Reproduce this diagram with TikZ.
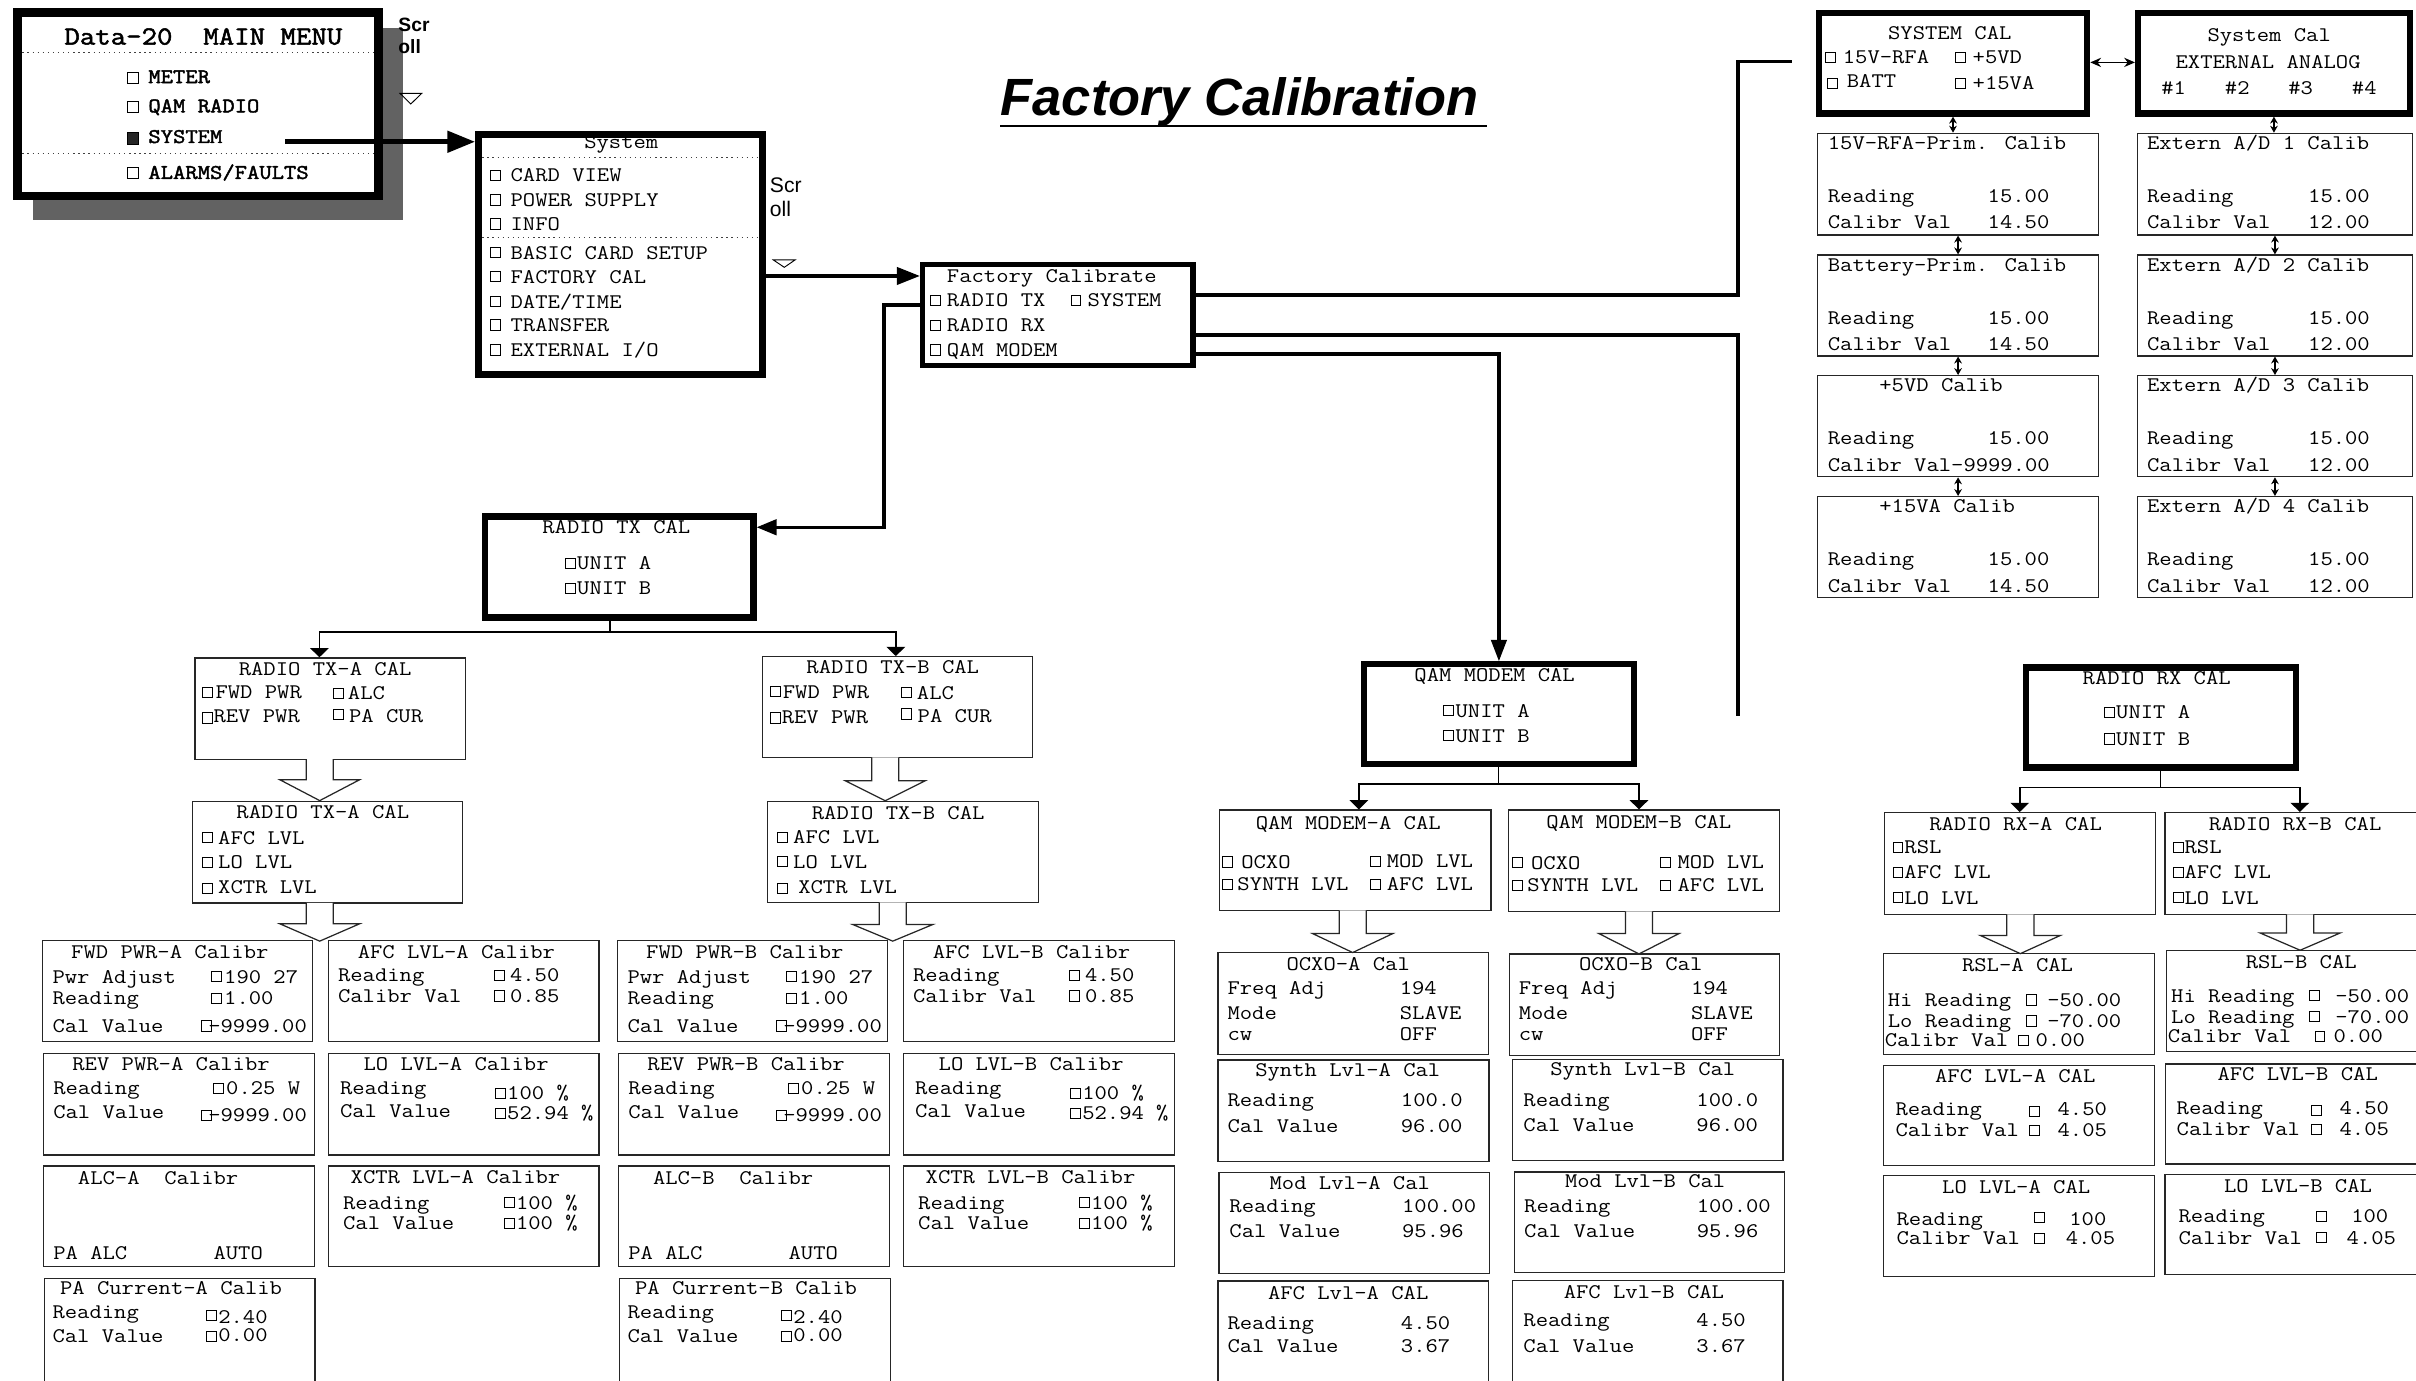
\documentclass[tikz,border=0pt]{standalone}
\usepackage{fontspec}
\newfontfamily\cmono{Latin Modern Mono}[FakeStretch=1.151]
\newfontfamily\cmonob{Latin Modern Mono}[FakeStretch=1.151, FakeBold=2]
\newfontfamily\lsans{Liberation Sans}
\usetikzlibrary{arrows.meta}
\definecolor{shadowgray}{RGB}{98,98,98}
\newcommand\mono{\cmono\fontsize{13.5}{15}\selectfont}
\newcommand\monob{\cmonob\fontsize{13.5}{15}\selectfont}
\newcommand\mbx[6]{\node[#2, minimum width={(#5)-(#3)}, minimum height={(#6)-(#4)}] (#1) at ({((#3)+(#5))/2},{((#4)+(#6))/2}) {};}
\newcommand\mtx[3]{\node[lbl] at (#1,#2) {#3};}
\newcommand\mtc[3]{\node[lblc] at (#1,#2) {#3};}
\newcommand\mcb[2]{\node[cbx] at (#1,#2) {};}
\newcommand\mbar[4]{\draw[barw] ({#1-8.8},#2) -- ({#1-8.8},#3) -- ({#1-26},#3) -- (#1,#4) -- ({#1+26},#3) -- ({#1+8.8},#3) -- ({#1+8.8},#2);}
\tikzset{
 lbl/.style={anchor=west, inner sep=0pt, outer sep=0pt, text height=8.2pt, text depth=0pt, font=\mono},
 lblc/.style={lbl, anchor=center},
 cbx/.style={draw, line width=0.65pt, anchor=west, minimum width=6.4pt, minimum height=6.6pt, inner sep=0pt, outer sep=0pt},
 tbox/.style={draw=black!85, line width=0.8pt, inner sep=0pt},
 kbox/.style={draw, line width=4pt, fill=white, inner sep=0pt},
 conn/.style={line width=2.2pt},
 tline/.style={line width=1pt},
 tarr/.style={tline, -{Triangle[length=6pt,width=12pt]}},
 barw/.style={line width=0.8pt, draw=black!85, fill=white},
 dots/.style={line width=0.9pt, dash pattern=on 0.9pt off 2.4pt, draw=black!75},
 sdbl/.style={line width=0.9pt, {Stealth[length=4.5pt,width=5pt]}-{Stealth[length=4.5pt,width=5pt]}},
}
\newcommand\mtxbot[1]{%
\mbx{fwd#1}{tbox}{27.5}{610.5}{202.7}{676}
\mbx{afc#1}{tbox}{213.3}{610.5}{388.8}{676}
\mbx{rev#1}{tbox}{28.2}{683.6}{204.3}{749.6}
\mbx{lo#1}{tbox}{213.3}{683.6}{388.8}{749.6}
\mbx{alc#1}{tbox}{28.2}{756.8}{204.3}{822}
\mbx{xc#1}{tbox}{213.3}{756.8}{388.8}{822}
\mbx{pac#1}{tbox}{28.7}{829.9}{204.5}{910}
\mtx{46.2}{618.1}{FWD PWR-#1 Calibr}
\mtx{34.1}{633.9}{Pwr Adjust}\mcb{137.3}{633.9}\mtx{145.5}{633.9}{190 27}
\mtx{34.1}{647.9}{Reading}\mcb{137.3}{647.9}\mtx{145.5}{647.9}{1.00}
\mtx{34.1}{665.9}{Cal Value}\mcb{130.9}{665.9}\mtx{135.2}{665.9}{-9999.00}
\mtx{232.2}{618}{AFC LVL-#1 Calibr}
\mtx{219.4}{633.2}{Reading}\mcb{320.8}{633.2}\mtx{331}{633.2}{4.50}
\mtx{219.4}{646.4}{Calibr Val}\mcb{320.8}{646.4}\mtx{331}{646.4}{0.85}
\mtx{47}{690.8}{REV PWR-#1 Calibr}
\mtx{34.6}{706.4}{Reading}\mcb{138.6}{706.4}\mtx{146.8}{706.4}{0.25 W}
\mtx{34.6}{721.5}{Cal Value}\mcb{130.9}{723.7}\mtx{135.2}{723.7}{-9999.00}
\mtx{236}{690.8}{LO LVL-#1 Calibr}
\mtx{220.7}{706.4}{Reading}\mcb{321.5}{709.6}\mtx{329.2}{709.6}{100 \%}
\mtx{220.7}{720.9}{Cal Value}\mcb{321.5}{722.6}\mtx{329.2}{722.6}{52.94 \%}
\mtx{50.6}{764.8}{ALC-#1~~Calibr}
\mtx{34.6}{813.5}{PA ALC}\mtx{138.6}{813.5}{AUTO}
\mtx{227.6}{764}{XCTR LVL-#1 Calibr}
\mtx{222.7}{780.6}{Reading}\mcb{327.2}{780.6}\mtx{334.9}{780.6}{100 \%}
\mtx{222.7}{794}{Cal Value}\mcb{327.2}{794}\mtx{334.9}{794}{100 \%}
\mtx{39}{836.2}{PA Current-#1 Calib}
\mtx{34.1}{851.3}{Reading}\mcb{134}{853.5}\mtx{141.7}{854.6}{2.40}
\mtx{34.1}{867.5}{Cal Value}\mcb{134}{867.5}\mtx{141.7}{866.5}{0.00}
}
\begin{document}
\begin{tikzpicture}[x=1pt,y=-1pt]
\path[use as bounding box, fill=white] (0,0) rectangle (1568,896);

% ---------- main menu ----------
\fill[shadowgray] (21.6,18.4) rectangle (261.8,142.8);
\mbx{menu}{kbox, line width=5.4pt}{11.4}{8.1}{245.7}{127.1}
\node[lblc, font=\cmonob\fontsize{16.9}{20}\selectfont] (menut) at (132,24.8) {Data-20~~MAIN MENU};
\draw[dots] (14.5,34.2) -- (243,34.2);
\draw[dots] (14.5,99.5) -- (243,99.5);
\node[cbx, minimum width=7pt, minimum height=7pt] at (82.9,50.6) {};
\node[lbl, font=\monob] at (96.3,49.8) {METER};
\node[cbx, minimum width=7pt, minimum height=7pt] at (82.9,69.5) {};
\node[lbl, font=\monob] at (96.3,68.8) {QAM RADIO};
\node[cbx, minimum width=7pt, minimum height=7.4pt, fill=black!85] at (82.9,89.8) {};
\node[lbl, font=\monob] at (96.3,88.7) {SYSTEM};
\node[cbx, minimum width=7pt, minimum height=7pt] at (82.9,112.5) {};
\node[lbl, font=\monob] at (96.3,112) {ALARMS/FAULTS};
\coordinate (mmsys) at (185,92);
\node[lbl, font=\lsans\bfseries\fontsize{12.5}{14}\selectfont] at (258.6,16.2) {Scr};
\node[lbl, font=\lsans\bfseries\fontsize{12.5}{14}\selectfont] at (258.6,30.3) {oll};
\draw[line width=0.6pt] (259.6,60.6) -- (273.7,60.6) -- (266.6,67.5) -- cycle;

% ---------- system box ----------
\mbx{sys}{kbox, line width=4.3pt}{310.5}{87.2}{494.9}{243.1}
\mtc{403.2}{92.6}{System}
\draw[dots] (313,102.1) -- (492.5,102.1);
\draw[dots] (313,154.3) -- (492.5,154.3);
\mcb{318.5}{114}\mtx{331.4}{114}{CARD VIEW}
\mcb{318.5}{129.8}\mtx{331.4}{129.8}{POWER SUPPLY}
\mcb{318.5}{145.4}\mtx{331.4}{145.4}{INFO}
\mcb{318.5}{164}\mtx{331.4}{164}{BASIC CARD SETUP}
\mcb{318.5}{179.6}\mtx{331.4}{179.6}{FACTORY CAL}
\mcb{318.5}{195.8}\mtx{331.4}{195.8}{DATE/TIME}
\mcb{318.5}{210.9}\mtx{331.4}{210.9}{TRANSFER}
\mcb{318.5}{227.2}\mtx{331.4}{227.2}{EXTERNAL I/O}
\node[lbl, font=\lsans\fontsize{13.7}{15}\selectfont] at (499.7,120.7) {Scr};
\node[lbl, font=\lsans\fontsize{13.7}{15}\selectfont] at (499.7,136.3) {oll};
\draw[line width=0.6pt] (501.9,168.7) -- (516,168.7) -- (509,173.5) -- cycle;
\draw[line width=3.2pt, -{Triangle[length=18pt,width=13.6pt]}] (mmsys) -- (mmsys -| sys.west);

% ---------- factory calibrate ----------
\node[anchor=base west, inner sep=0pt, font=\lsans\bfseries\itshape\fontsize{34}{40}\selectfont] (title) at (649.3,74.7) {Factory Calibration};
\draw[line width=1.3pt] (649.3,81.8) -- (965.1,81.8);
\mbx{fac}{kbox, line width=3.4pt}{598.8}{171.6}{774.2}{237.4}
\mtc{682.6}{179.2}{Factory Calibrate}
\mcb{603.8}{194.8}\mtx{614.5}{194.8}{RADIO TX}
\mcb{695.1}{194.8}\mtx{705.8}{194.8}{SYSTEM}
\mcb{603.8}{211}\mtx{614.5}{211}{RADIO RX}
\mcb{603.8}{227.2}\mtx{614.5}{227.2}{QAM MODEM}
\draw[line width=2.6pt, -{Triangle[length=15pt,width=11pt]}] (sys.east |- 0,179.1) -- (fac.west |- 0,179.1);

% ---------- system cal ----------
\mbx{sc}{kbox}{1180.4}{8.5}{1354.6}{73.7}
\mtc{1265.4}{21.6}{SYSTEM CAL}
\mcb{1185}{37.2}\mtx{1196}{37.2}{15V-RFA}
\mcb{1269}{37.2}\mtx{1280.3}{37.2}{+5VD}
\mcb{1186.3}{54.1}\mtx{1198.6}{52.6}{BATT}
\mcb{1269}{54.1}\mtx{1280.3}{54.1}{+15VA}
\mbx{ext}{kbox}{1387.6}{8.5}{1564}{73.7}
\mtc{1472.7}{22.7}{System Cal}
\mtc{1472}{40.5}{EXTERNAL ANALOG}
\mtx{1402.7}{57.3}{\#1}\mtx{1444}{57.3}{\#2}\mtx{1485.1}{57.3}{\#3}\mtx{1526.4}{57.3}{\#4}
\draw[line width=1pt, {Stealth[length=7pt,width=6pt]}-{Stealth[length=7pt,width=6pt]}] (sc.east |- 0,40.5) -- (ext.west |- 0,40.5);

\mbx{dL1}{tbox}{1179.7}{86.5}{1361.9}{152.5}
\mbx{dL2}{tbox}{1179.7}{165.5}{1361.9}{231}
\mbx{dL3}{tbox}{1179.7}{243.8}{1361.9}{309.4}
\mbx{dL4}{tbox}{1179.7}{322.3}{1361.9}{387.7}
\mbx{dR1}{tbox}{1387.4}{86.5}{1565.5}{152.5}
\mbx{dR2}{tbox}{1387.4}{165.5}{1565.5}{231}
\mbx{dR3}{tbox}{1387.4}{243.8}{1565.5}{309.4}
\mbx{dR4}{tbox}{1387.4}{322.3}{1565.5}{387.7}
\draw[sdbl] (sc.south) -- (sc.south |- dL1.north);
\draw[sdbl] (dL1.south) -- (dL2.north);
\draw[sdbl] (dL2.south) -- (dL3.north);
\draw[sdbl] (dL3.south) -- (dL4.north);
\draw[sdbl] (ext.south) -- (ext.south |- dR1.north);
\draw[sdbl] (dR1.south) -- (dR2.north);
\draw[sdbl] (dR2.south) -- (dR3.north);
\draw[sdbl] (dR3.south) -- (dR4.north);

\mtx{1186.3}{93}{15V-RFA-Prim. Calib}
\mtx{1186.3}{127.6}{Reading}\mtx{1290}{127.6}{15.00}
\mtx{1186.3}{144.5}{Calibr Val}\mtx{1290}{144.5}{14.50}
\mtx{1186.3}{172}{Battery-Prim. Calib}
\mtx{1186.3}{206.6}{Reading}\mtx{1290}{206.6}{15.00}
\mtx{1186.3}{223.2}{Calibr Val}\mtx{1290}{223.2}{14.50}
\mtx{1219.7}{250}{+5VD Calib}
\mtx{1186.3}{284.5}{Reading}\mtx{1290}{284.5}{15.00}
\mtx{1186.3}{301.8}{Calibr Val-9999.00}
\mtx{1219.7}{328.8}{+15VA Calib}
\mtx{1186.3}{363}{Reading}\mtx{1290}{363}{15.00}
\mtx{1186.3}{380.3}{Calibr Val}\mtx{1290}{380.3}{14.50}

\mtx{1393.5}{93}{Extern A/D 1 Calib}
\mtx{1393.5}{127.6}{Reading}\mtx{1498}{127.6}{15.00}
\mtx{1393.5}{144.5}{Calibr Val}\mtx{1498}{144.5}{12.00}
\mtx{1393.5}{172}{Extern A/D 2 Calib}
\mtx{1393.5}{206.6}{Reading}\mtx{1498}{206.6}{15.00}
\mtx{1393.5}{223.2}{Calibr Val}\mtx{1498}{223.2}{12.00}
\mtx{1393.5}{250}{Extern A/D 3 Calib}
\mtx{1393.5}{284.5}{Reading}\mtx{1498}{284.5}{15.00}
\mtx{1393.5}{301.8}{Calibr Val}\mtx{1498}{301.8}{12.00}
\mtx{1393.5}{328.8}{Extern A/D 4 Calib}
\mtx{1393.5}{363}{Reading}\mtx{1498}{363}{15.00}
\mtx{1393.5}{380.3}{Calibr Val}\mtx{1498}{380.3}{12.00}

% ---------- radio tx ----------
\mbx{txc}{kbox}{315}{335.2}{489}{400.8}
\mtc{400}{342.2}{RADIO TX CAL}
\mcb{367}{365.6}\mtx{374.6}{365.6}{UNIT A}
\mcb{367}{381.8}\mtx{374.6}{381.8}{UNIT B}

\mbx{txa1}{tbox}{126.5}{427}{302}{492.7}
\mtc{211}{434}{RADIO TX-A CAL}
\mcb{131.6}{449.5}\mtx{139.9}{449.5}{FWD PWR}
\mcb{216.3}{450}\mtx{225.8}{450}{ALC}
\mcb{131.6}{466}\mtx{138.6}{465}{REV PWR}
\mcb{216.3}{463.9}\mtx{226.6}{465}{PA CUR}
\mbx{txa2}{tbox}{125}{520}{300}{586}
\mtc{209.5}{527.2}{RADIO TX-A CAL}
\mcb{131.6}{543.7}\mtx{141.6}{543.7}{AFC LVL}
\mcb{131.6}{559.7}\mtx{141.6}{559.7}{LO LVL}
\mcb{131.6}{576.5}\mtx{141.6}{575.5}{XCTR LVL}

\mbx{txb1}{tbox}{495}{426.2}{670.1}{491.6}
\mtc{579.4}{433}{RADIO TX-B CAL}
\mcb{499.9}{449}\mtx{508.1}{449}{FWD PWR}
\mcb{584.9}{449.6}\mtx{595.1}{449.6}{ALC}
\mcb{499.9}{466}\mtx{507.4}{465.2}{REV PWR}
\mcb{584.9}{463.4}\mtx{595.6}{465}{PA CUR}
\mbx{txb2}{tbox}{498.2}{520.1}{673.8}{585.7}
\mtc{582.9}{527.5}{RADIO TX-B CAL}
\mcb{504.4}{543.5}\mtx{514.8}{543.5}{AFC LVL}
\mcb{504.4}{559.3}\mtx{514.8}{559.3}{LO LVL}
\mcb{504.4}{576.6}\mtx{518.1}{575.5}{XCTR LVL}

\coordinate (txj) at (396,410);
\coordinate (txja) at (207.3,410);
\coordinate (txjb) at (581.4,410);
\draw[tline] (txj |- txc.south) -- (txj);
\draw[tarr] (txj) -- (txja) -- (txja |- txa1.north);
\draw[tarr] (txj) -- (txjb) -- (txjb |- txb1.north);
\mbar{207.5}{492.7}{506}{519.6}
\mbar{574.5}{491.6}{506.7}{519.7}
\mbar{207.5}{586}{599.5}{610.8}
\mbar{579.4}{585.7}{600}{610.8}

\mtxbot{A}
\begin{scope}[xshift=373.2pt]
\mtxbot{B}
\end{scope}

% ---------- qam ----------
\mbx{qam}{kbox}{885.1}{431.2}{1060.5}{496.1}
\mtc{970}{438.4}{QAM MODEM CAL}
\mcb{937}{461.3}\mtx{944.7}{461.3}{UNIT A}
\mcb{937}{477.6}\mtx{944.7}{477.6}{UNIT B}
\coordinate (qj) at (972.5,508.8);
\coordinate (qja) at (881.9,508.8);
\coordinate (qjb) at (1063.7,508.8);
\mbx{qa}{tbox}{791.7}{525.7}{967.6}{590.9}
\mbx{qb}{tbox}{979.2}{525.7}{1155.1}{591.5}
\draw[tline] (qam.south -| qj) -- (qj);
\draw[tarr] (qj) -- (qja) -- (qja |- qa.north);
\draw[tarr] (qj) -- (qjb) -- (qjb |- qb.north);
\mtc{875}{534.2}{QAM MODEM-A CAL}
\mcb{793.7}{559.4}\mtx{805.6}{559.4}{OCXO}
\mcb{889.3}{559}\mtx{900}{559}{MOD LVL}
\mcb{793.7}{574}\mtx{803.1}{574}{SYNTH LVL}
\mcb{889.3}{574}\mtx{900}{574}{AFC LVL}
\mtc{1063.6}{533.5}{QAM MODEM-B CAL}
\mcb{981.7}{559.9}\mtx{993.7}{559.9}{OCXO}
\mcb{1077.6}{559.5}\mtx{1088.8}{559.5}{MOD LVL}
\mcb{981.7}{574.5}\mtx{991.2}{574.5}{SYNTH LVL}
\mcb{1077.6}{574.5}\mtx{1088.8}{574.5}{AFC LVL}
\mbar{877.9}{590.9}{605.9}{618.2}
\mbar{1063.7}{591.5}{605.9}{619.1}

\mbx{ocA}{tbox}{790.5}{618.2}{965.8}{684.3}
\mtc{875}{625.8}{OCXO-A Cal}
\mtx{796.7}{641.4}{Freq Adj}\mtx{908.5}{641.4}{194}
\mtx{796.7}{657.4}{Mode}\mtx{908.5}{657.4}{SLAVE}
\mtx{796.7}{671.1}{cw}\mtx{908.5}{671.1}{OFF}
\mbx{ocB}{tbox}{979.5}{619.1}{1155.1}{684.9}
\mtc{1064.8}{626}{OCXO-B Cal}
\mtx{985.7}{641.4}{Freq Adj}\mtx{1097.5}{641.4}{194}
\mtx{985.7}{657.4}{Mode}\mtx{1097.5}{657.4}{SLAVE}
\mtx{985.7}{671.1}{cw}\mtx{1097.5}{671.1}{OFF}
\mbx{syA}{tbox}{790.5}{688}{966.3}{753.8}
\mtc{874.7}{694.7}{Synth Lvl-A Cal}
\mtx{796.7}{714}{Reading}\mtx{909.2}{714}{100.0}
\mtx{796.7}{730.9}{Cal Value}\mtx{909.2}{730.9}{96.00}
\mbx{syB}{tbox}{981.7}{687.4}{1157.1}{753.2}
\mtc{1066.2}{694}{Synth Lvl-B Cal}
\mtx{988.7}{714}{Reading}\mtx{1101}{714}{100.0}
\mtx{988.7}{730}{Cal Value}\mtx{1101}{730}{96.00}
\mbx{mdA}{tbox}{791.2}{760.9}{966.8}{826.7}
\mtc{876}{767.6}{Mod Lvl-A Cal}
\mtx{797.9}{783}{Reading}\mtx{910}{783}{100.00}
\mtx{797.9}{799.2}{Cal Value}\mtx{910}{799.2}{95.96}
\mbx{mdB}{tbox}{983}{760.6}{1158.3}{825.8}
\mtc{1067.7}{766.8}{Mod Lvl-B Cal}
\mtx{989.2}{782.5}{Reading}\mtx{1101.2}{782.5}{100.00}
\mtx{989.2}{798.8}{Cal Value}\mtx{1101.2}{798.8}{95.96}
\mbx{afA}{tbox}{790.5}{831.3}{965.8}{910}
\mtc{875}{839}{AFC Lvl-A CAL}
\mtx{796.7}{858.6}{Reading}\mtx{909.2}{858.6}{4.50}
\mtx{796.7}{873.9}{Cal Value}\mtx{909.2}{873.9}{3.67}
\mbx{afB}{tbox}{981.7}{831}{1157.1}{910}
\mtc{1066.9}{838.5}{AFC Lvl-B CAL}
\mtx{988.7}{857}{Reading}\mtx{1101}{857}{4.50}
\mtx{988.7}{873.9}{Cal Value}\mtx{1101}{873.9}{3.67}

% ---------- radio rx ----------
\mbx{rxc}{kbox}{1314.6}{433.2}{1489.9}{498.1}
\mtc{1399.7}{440}{RADIO RX CAL}
\mcb{1366}{462.4}\mtx{1373.4}{462.4}{UNIT A}
\mcb{1366}{479.6}\mtx{1373.4}{479.6}{UNIT B}
\coordinate (rj) at (1402.1,511);
\coordinate (rja) at (1310.8,511);
\coordinate (rjb) at (1492.6,511);
\mbx{rxa}{tbox}{1222.9}{527.4}{1398.9}{593.5}
\mbx{rxb}{tbox}{1405.1}{527.4}{1580}{593.5}
\draw[tline] (rxc.south -| rj) -- (rj);
\draw[tarr] (rj) -- (rja) -- (rja |- rxa.north);
\draw[tarr] (rj) -- (rjb) -- (rjb |- rxb.north);
\mtc{1308.1}{534.8}{RADIO RX-A CAL}
\mcb{1228.6}{550.1}\mtx{1236}{550.1}{RSL}
\mcb{1228.6}{566.2}\mtx{1236}{566.2}{AFC LVL}
\mcb{1228.6}{582.6}\mtx{1236}{582.6}{LO LVL}
\mtc{1489.5}{534.8}{RADIO RX-B CAL}
\mcb{1410.9}{550.1}\mtx{1417.8}{550.1}{RSL}
\mcb{1410.9}{566.2}\mtx{1417.8}{566.2}{AFC LVL}
\mcb{1410.9}{582.6}\mtx{1417.8}{582.6}{LO LVL}
\mbar{1311.2}{593.5}{607.1}{618.9}
\mbar{1492.8}{593.5}{605.5}{616.7}

\mbx{rsA}{tbox}{1222.2}{618.9}{1398.2}{684.4}
\mtc{1309.4}{626.3}{RSL-A CAL}
\mtx{1225.2}{649}{Hi Reading}\mcb{1315.4}{649}\mtx{1328.7}{649}{-50.00}
\mtx{1225.2}{662.6}{Lo Reading}\mcb{1315.4}{662.6}\mtx{1328.7}{662.6}{-70.00}
\mtx{1223.3}{675.4}{Calibr Val}\mcb{1310.1}{675.4}\mtx{1321.1}{675.4}{0.00}
\mbx{rsB}{tbox}{1406.3}{616.7}{1580}{682.5}
\mtc{1493.5}{624.4}{RSL-B CAL}
\mtx{1409.1}{646.2}{Hi Reading}\mcb{1499}{646.2}\mtx{1515.6}{646.2}{-50.00}
\mtx{1409.1}{659.9}{Lo Reading}\mcb{1499}{659.9}\mtx{1515.6}{659.9}{-70.00}
\mtx{1407}{672.7}{Calibr Val}\mcb{1502.5}{672.7}\mtx{1514.5}{672.7}{0.00}
\mbx{raA}{tbox}{1222.6}{691.3}{1398.2}{756.3}
\mtc{1307.9}{698.7}{AFC LVL-A CAL}
\mtx{1230.2}{720}{Reading}\mcb{1317.2}{721.3}\mtx{1335.4}{720}{4.50}
\mtx{1230.2}{733.6}{Calibr Val}\mcb{1317.2}{733.6}\mtx{1335.4}{733.6}{4.05}
\mbx{raB}{tbox}{1405.6}{690.5}{1580}{755.5}
\mtc{1491.2}{697.3}{AFC LVL-B CAL}
\mtx{1412.7}{719.4}{Reading}\mcb{1500}{720.5}\mtx{1518.4}{719.4}{4.50}
\mtx{1412.7}{733}{Calibr Val}\mcb{1500}{733}\mtx{1518.4}{733}{4.05}
\mbx{rlA}{tbox}{1222.2}{762.8}{1398.2}{828.4}
\mtc{1308.5}{770.5}{LO LVL-A CAL}
\mtx{1230.9}{791}{Reading}\mcb{1320.4}{790.2}\mtx{1343}{791}{100}
\mtx{1230.9}{803.8}{Calibr Val}\mcb{1320.4}{803.8}\mtx{1340.7}{803.8}{4.05}
\mbx{rlB}{tbox}{1405.1}{762.3}{1580}{827.3}
\mtc{1491.4}{769.7}{LO LVL-B CAL}
\mtx{1413.9}{789.6}{Reading}\mcb{1503.6}{789.6}\mtx{1526}{789.6}{100}
\mtx{1413.9}{803.3}{Calibr Val}\mcb{1503.6}{803.3}\mtx{1523}{803.3}{4.05}

% ---------- thick connectors from Factory Calibrate ----------
\coordinate (syscin) at (1163,40);
\coordinate (rxin) at (1128,465);
\draw[conn] (fac.east |- 0,191.5) -- (1128,191.5) -- (1128,40) -- (syscin);
\draw[conn] (fac.east |- 0,217.5) -- (1128,217.5) -- (rxin);
\draw[conn, -{Triangle[length=14pt,width=10pt]}] (fac.east |- 0,229.8) -- (qam.north |- 0,229.8) -- (qam.north);
\draw[conn, -{Triangle[length=13pt,width=10pt]}] (fac.west |- 0,198) -- (573.7,198) -- (573.7,342.2) -- (txc.east |- 0,342.2);
\end{tikzpicture}
\end{document}
